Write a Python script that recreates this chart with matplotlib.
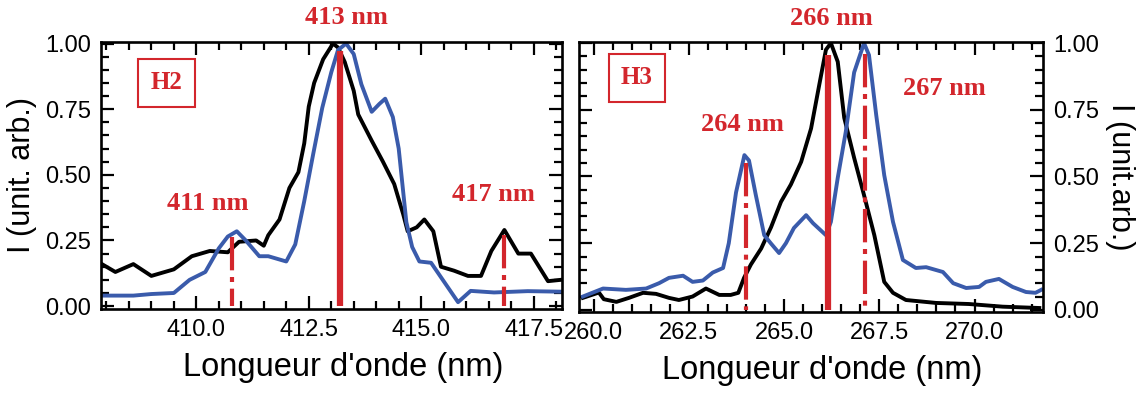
import matplotlib
matplotlib.use('Agg')
import matplotlib.pyplot as plt
from matplotlib.ticker import MultipleLocator

# H2 panel (around 413 nm)
h2_black_x = [407.9, 408.2, 408.6, 409.0, 409.5, 409.9, 410.3, 410.7, 410.95, 411.33,
              411.5, 411.6, 411.85, 412.07, 412.27, 412.4, 412.5, 412.62, 412.82, 413.04,
              413.15, 413.3, 413.5, 413.6, 413.9, 414.15, 414.4, 414.6, 414.7, 414.9,
              415.07, 415.27, 415.44, 415.73, 416.04, 416.33, 416.56, 416.85, 417.16, 417.44,
              417.82, 418.1]
h2_black_y = [0.16, 0.13, 0.16, 0.115, 0.14, 0.19, 0.21, 0.205, 0.245, 0.25,
              0.23, 0.27, 0.33, 0.45, 0.51, 0.62, 0.76, 0.85, 0.94, 1.0,
              0.985, 0.93, 0.82, 0.73, 0.63, 0.55, 0.465, 0.35, 0.285, 0.30,
              0.33, 0.285, 0.15, 0.135, 0.115, 0.115, 0.21, 0.29, 0.20, 0.20,
              0.095, 0.10]
h2_blue_x = [407.9, 408.6, 409.0, 409.5, 409.85, 410.2, 410.5, 410.7, 410.9, 411.1,
             411.4, 411.6, 412.0, 412.2, 412.4, 412.6, 412.8, 413.0, 413.15, 413.33,
             413.5, 413.67, 413.9, 414.07, 414.2, 414.37, 414.5, 414.67, 414.8, 414.96,
             415.22, 415.5, 415.82, 416.1, 416.62, 417.37, 418.1]
h2_blue_y = [0.04, 0.04, 0.046, 0.05, 0.10, 0.13, 0.22, 0.265, 0.285, 0.25,
             0.19, 0.19, 0.17, 0.235, 0.40, 0.58, 0.755, 0.89, 0.975, 1.0,
             0.96, 0.845, 0.74, 0.77, 0.79, 0.72, 0.60, 0.32, 0.225, 0.17,
             0.165, 0.095, 0.015, 0.058, 0.052, 0.057, 0.055]

# H3 panel (around 266 nm)
h3_black_x = [259.72, 260.14, 260.27, 260.6, 260.93, 261.3, 261.64, 261.98, 262.24, 262.6,
              262.95, 263.3, 263.6, 263.8, 263.95, 264.13, 264.4, 264.66, 264.92, 265.18,
              265.45, 265.71, 265.92, 266.1, 266.23, 266.41, 266.58, 266.84, 267.1, 267.37,
              267.63, 267.86, 268.2, 268.99, 269.85, 270.74, 271.7]
h3_black_y = [0.045, 0.065, 0.04, 0.03, 0.045, 0.064, 0.06, 0.045, 0.037, 0.05,
              0.08, 0.056, 0.056, 0.064, 0.12, 0.17, 0.23, 0.31, 0.405, 0.47,
              0.555, 0.68, 0.84, 0.975, 1.0, 0.93, 0.72, 0.57, 0.43, 0.28,
              0.105, 0.064, 0.037, 0.026, 0.022, 0.012, 0.007]
h3_blue_x = [259.72, 260.25, 260.85, 261.38, 261.72, 261.98, 262.35, 262.6, 262.87, 263.13,
             263.4, 263.55, 263.74, 263.96, 264.08, 264.26, 264.48, 264.65, 264.87, 265.05,
             265.26, 265.58, 265.76, 266.1, 266.23, 266.41, 266.62, 266.84, 267.1, 267.23,
             267.42, 267.63, 267.86, 268.12, 268.46, 268.73, 269.17, 269.44, 269.78, 270.12,
             270.3, 270.64, 271.0, 271.35, 271.6, 271.75]
h3_blue_y = [0.05, 0.08, 0.075, 0.08, 0.10, 0.12, 0.128, 0.105, 0.11, 0.14,
             0.157, 0.25, 0.44, 0.58, 0.56, 0.43, 0.28, 0.25, 0.213, 0.25,
             0.307, 0.355, 0.325, 0.28, 0.33, 0.495, 0.667, 0.89, 1.0, 0.955,
             0.73, 0.505, 0.33, 0.187, 0.157, 0.16, 0.142, 0.10, 0.082, 0.086,
             0.105, 0.116, 0.086, 0.067, 0.064, 0.075]

# marker lines: position, height, solid or not
h2_marks = [(410.8, 0.265, False), (413.2, 0.97, True), (416.85, 0.27, False)]
h3_marks = [(264.0, 0.55, False), (266.15, 0.955, True), (267.13, 0.96, False)]

# annotation labels
h2_labels = [('413 nm', 413.33, 1.10), ('411 nm', 410.25, 0.39), ('417 nm', 416.6, 0.425)]
h3_labels = [('266 nm', 266.23, 1.094), ('264 nm', 263.92, 0.693), ('267 nm', 269.22, 0.83)]

red = '#d3262c'
blue = '#3a5bab'
plt.rcParams['font.family'] = ['Liberation Sans', 'DejaVu Sans']

fig = plt.figure(figsize=(11.41, 3.96), dpi=100)
ax1 = fig.add_axes([0.0885, 0.2197, 0.404, 0.6743])
ax2 = fig.add_axes([0.5075, 0.2121, 0.4067, 0.6818])


def style_axis(ax):
    for s in ax.spines.values():
        s.set_linewidth(1.9)
    ax.tick_params(which='both', direction='in', top=True, right=True, width=1.6,
                   labelsize=17, pad=7)
    ax.tick_params(which='major', length=9.5)
    ax.tick_params(which='minor', length=6)
    ax.xaxis.set_major_locator(MultipleLocator(2.5))
    ax.xaxis.set_minor_locator(MultipleLocator(0.5))
    ax.yaxis.set_major_locator(MultipleLocator(0.25))
    ax.yaxis.set_minor_locator(MultipleLocator(0.05))
    ax.xaxis.set_major_formatter('{x:.1f}')
    ax.yaxis.set_major_formatter('{x:.2f}')
    ax.set_xlabel("Longueur d'onde (nm)", fontsize=23.5, labelpad=8)
    ax.xaxis.label.set_x(0.525)


def draw_marks(ax, marks):
    for x, top, solid in marks:
        if solid:
            ax.plot([x, x], [top, 0], color=red, lw=4.5, solid_capstyle='butt', zorder=5)
        else:
            ax.plot([x, x], [top, 0], color=red, lw=3, dash_capstyle='butt',
                    linestyle=(0, (8, 1.6, 1.2, 1.6)), zorder=5)


def draw_labels(ax, labels, box_text, bx, by):
    for t, x, y in labels:
        ax.text(x, y, t, color=red, fontsize=19, fontweight='bold', ha='center', va='center',
                family='Liberation Serif', clip_on=False)
    ax.text(bx, by, box_text, color=red, fontsize=18, fontweight='bold', ha='center',
            va='center', family='Liberation Serif',
            bbox=dict(boxstyle='square,pad=0.5', fc='white', ec=red, lw=1.5))


# left panel
ax1.plot(h2_black_x, h2_black_y, color='black', lw=2.8)
ax1.plot(h2_blue_x, h2_blue_y, color=blue, lw=2.8)
draw_marks(ax1, h2_marks)
draw_labels(ax1, h2_labels, 'H2', 409.33, 0.85)
ax1.set_xlim(407.88, 418.13)
ax1.set_ylim(-0.011, 1.006)
style_axis(ax1)
ax1.set_ylabel('I (unit. arb.)', fontsize=22, labelpad=6)

# right panel
ax2.plot(h3_black_x, h3_black_y, color='black', lw=2.8)
ax2.plot(h3_blue_x, h3_blue_y, color=blue, lw=2.8)
draw_marks(ax2, h3_marks)
draw_labels(ax2, h3_labels, 'H3', 261.14, 0.87)
ax2.set_xlim(259.62, 271.8)
ax2.set_ylim(-0.008, 1.004)
style_axis(ax2)
ax2.tick_params(axis='y', which='both', labelleft=False, labelright=True)
ax2.yaxis.set_label_position('right')
ax2.set_ylabel('I (unit.arb.)', fontsize=22, rotation=270, labelpad=26)

plt.savefig('out.png', dpi=100)
